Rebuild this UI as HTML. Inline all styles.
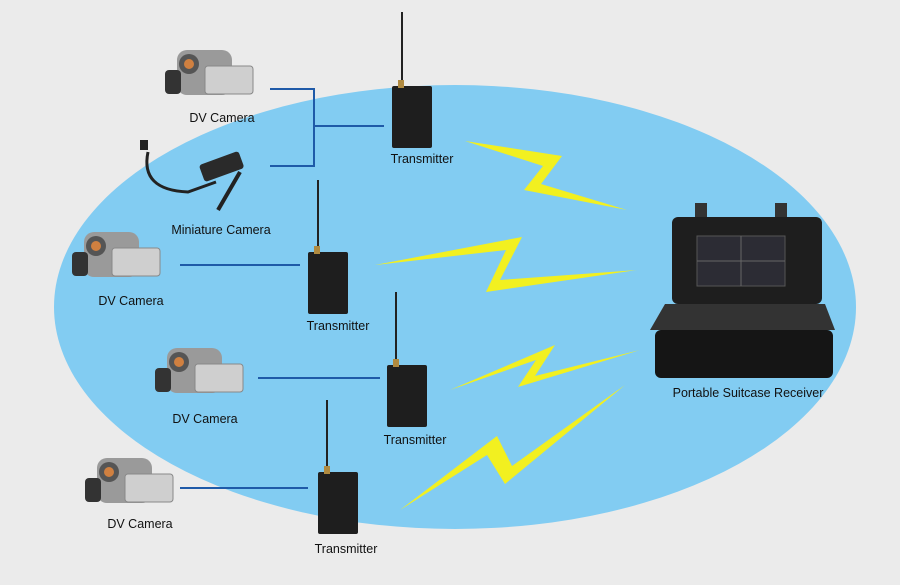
<!DOCTYPE html>
<html><head><style>body{margin:0;background:#ebebeb}svg{display:block}text{font-family:"Liberation Sans",sans-serif;font-size:12.5px;fill:#111}</style></head><body>
<svg width="900" height="585" viewBox="0 0 900 585">
<rect width="900" height="585" fill="#ebebeb"/>
<ellipse cx="455" cy="307" rx="401" ry="222" fill="#82ccf2"/>
<g fill="#f2f020">
<polygon points="465,141 562,156 541,184 627,210 524,190 543,166"/>
<polygon points="375,265 522,237 500,280 637,270 486,292 506,250"/>
<polygon points="450,390 555,345 535,376 640,350 518,387 536,360"/>
<polygon points="400,510 497,436 512,466 625,385 505,484 487,455"/>
</g>
<g stroke="#1f5aa8" stroke-width="2" fill="none">
<polyline points="270,89 314,89 314,166 270,166"/><line x1="314" y1="126" x2="384" y2="126"/>
<line x1="180" y1="265" x2="300" y2="265"/><line x1="258" y1="378" x2="380" y2="378"/><line x1="180" y1="488" x2="308" y2="488"/>
</g>
<defs>
<g id="cam"><rect x="12" y="8" width="55" height="45" rx="10" fill="#9a9a9a"/><rect x="40" y="24" width="48" height="28" rx="3" fill="#cfcfcf" stroke="#888"/><circle cx="24" cy="22" r="10" fill="#555"/><circle cx="24" cy="22" r="5" fill="#d08040"/><rect x="0" y="28" width="16" height="24" rx="4" fill="#333"/></g>
<g id="tx"><rect x="0" y="0" width="40" height="62" rx="2" fill="#1e1e1e"/><rect x="6" y="-6" width="6" height="8" fill="#b08a40"/></g>
</defs>
<use href="#cam" x="165" y="42"/><use href="#cam" x="72" y="224"/><use href="#cam" x="155" y="340"/><use href="#cam" x="85" y="450"/>
<g><path d="M148,152 q-8,38 40,40 l28,-10" stroke="#222" stroke-width="3" fill="none"/><rect x="200" y="158" width="42" height="18" rx="3" fill="#2a2a2a" transform="rotate(-20 220 165)"/><path d="M240,172 l-22,38" stroke="#222" stroke-width="4"/><rect x="140" y="140" width="8" height="10" fill="#222"/></g>
<g stroke="#222" stroke-width="2"><line x1="402" y1="12" x2="402" y2="86"/><line x1="318" y1="180" x2="318" y2="253"/><line x1="396" y1="292" x2="396" y2="365"/><line x1="327" y1="400" x2="327" y2="472"/></g>
<use href="#tx" x="392" y="86"/><use href="#tx" x="308" y="252"/><use href="#tx" x="387" y="365"/><use href="#tx" x="318" y="472"/>
<g><rect x="695" y="203" width="12" height="15" fill="#333"/><rect x="775" y="203" width="12" height="15" fill="#333"/>
<rect x="672" y="217" width="150" height="87" rx="6" fill="#1e1e1e"/><rect x="697" y="236" width="88" height="50" fill="#2c2c34" stroke="#555"/>
<line x1="741" y1="236" x2="741" y2="286" stroke="#666"/><line x1="697" y1="261" x2="785" y2="261" stroke="#666"/>
<polygon points="665,304 825,304 835,330 650,330" fill="#333"/>
<rect x="655" y="330" width="178" height="48" rx="6" fill="#151515"/></g>
<g text-anchor="middle">
<text x="222" y="122">DV Camera</text><text x="221" y="234">Miniature Camera</text><text x="131" y="305">DV Camera</text><text x="205" y="423">DV Camera</text><text x="140" y="528">DV Camera</text>
<text x="422" y="163">Transmitter</text><text x="338" y="330">Transmitter</text><text x="415" y="444">Transmitter</text><text x="346" y="553">Transmitter</text>
<text x="748" y="397">Portable Suitcase Receiver</text></g>
</svg></body></html>
